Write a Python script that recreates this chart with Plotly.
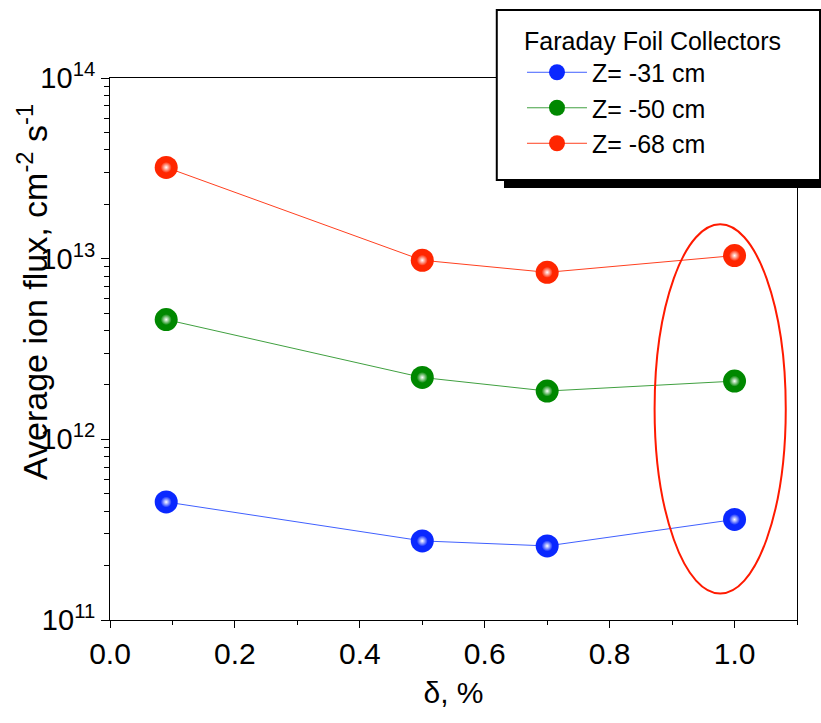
import plotly.graph_objects as go

delta = [0.09, 0.5, 0.7, 1.0]
flux_31 = [4.5e11, 2.74e11, 2.57e11, 3.6e11]
flux_50 = [4.6e12, 2.2e12, 1.85e12, 2.1e12]
flux_68 = [3.2e13, 9.8e12, 8.4e12, 1.04e13]
series_names = ["Z= -31 cm", "Z= -50 cm", "Z= -68 cm"]
series_colors = ["#0a28ff", "#008800", "#ff2600"]
line_colors = ["#4060ff", "#40a040", "#ff4020"]
ytick_vals = [1e11, 1e12, 1e13, 1e14]
ytick_text = ["10<sup>11</sup>", "10<sup>12</sup>", "10<sup>13</sup>", "10<sup>14</sup>"]
xtick_vals = [0, 0.2, 0.4, 0.6, 0.8, 1.0]
xtick_text = ["0.0", "0.2", "0.4", "0.6", "0.8", "1.0"]

font = "Liberation Sans, Arial"

fig = go.Figure()
for ys, name, c, lc in zip([flux_31, flux_50, flux_68], series_names,
                           series_colors, line_colors):
    fig.add_trace(go.Scatter(
        x=delta, y=ys, name=name, mode="lines+markers",
        line=dict(color=lc, width=1),
        marker=dict(size=23, color=c, symbol="circle", line=dict(width=0)),
    ))
# glossy highlights on the spheres
for ys, c in zip([flux_31, flux_50, flux_68], series_colors):
    fig.add_trace(go.Scatter(
        x=delta, y=ys, mode="markers", showlegend=False, hoverinfo="skip",
        marker=dict(size=11, color=c, symbol="circle", line=dict(width=0),
                    gradient=dict(type="radial", color="white")),
    ))

# ellipse highlighting delta = 1.0 points
fig.add_shape(type="circle", xref="x", yref="y",
              x0=0.872, x1=1.082, y0=1.4e11, y1=1.55e13,
              line=dict(color="#ff1a00", width=2))

# legend shadow and box
fig.add_shape(type="rect", xref="paper", yref="paper",
              x0=0.5735, x1=1.1, y0=0.797, y1=1.1107,
              fillcolor="black", line=dict(width=0), layer="above")
fig.add_shape(type="rect", xref="paper", yref="paper",
              x0=0.563, x1=1.0335, y0=0.8118, y1=1.1255,
              fillcolor="white", line=dict(color="black", width=2), layer="above")

# y axis title
fig.add_annotation(
    text="Average ion flux, cm<sup>-2</sup> s<sup>-1</sup>",
    xref="paper", yref="paper", x=-0.1135, y=0.2546,
    xanchor="center", yanchor="bottom", textangle=-90, showarrow=False,
    font=dict(size=34, family=font, color="black"),
)

fig.update_layout(
    width=821, height=723,
    margin=dict(l=110, r=24, t=78, b=103, autoexpand=False),
    plot_bgcolor="white", paper_bgcolor="white",
    font=dict(family=font, color="black"),
    showlegend=True,
    legend=dict(
        x=0.5997, y=1.1125, xanchor="left", yanchor="top",
        bgcolor="rgba(0,0,0,0)", borderwidth=0,
        title=dict(text="Faraday Foil Collectors", font=dict(size=25, family=font)),
        font=dict(size=25, family=font),
        itemwidth=60, tracegroupgap=0,
    ),
    xaxis=dict(
        range=[0, 1.1], tickvals=xtick_vals, ticktext=xtick_text,
        ticks="outside", ticklen=7, tickwidth=1, tickcolor="black",
        minor=dict(ticks="outside", ticklen=4, dtick=0.1, tickcolor="black"),
        showline=True, linecolor="black", linewidth=1, mirror=True,
        showgrid=False, zeroline=False,
        tickfont=dict(size=30, family=font),
        title=dict(text="δ, %", font=dict(size=30, family=font), standoff=12),
    ),
    yaxis=dict(
        type="log", range=[11, 14],
        tickvals=ytick_vals, ticktext=ytick_text,
        ticks="outside", ticklen=8, tickwidth=1, tickcolor="black",
        minor=dict(ticks="outside", ticklen=5, tickcolor="black", dtick="D1"),
        showline=True, linecolor="black", linewidth=1, mirror=True,
        showgrid=False, zeroline=False,
        tickfont=dict(size=29, family=font),
    ),
)

fig.write_html("out.html")
